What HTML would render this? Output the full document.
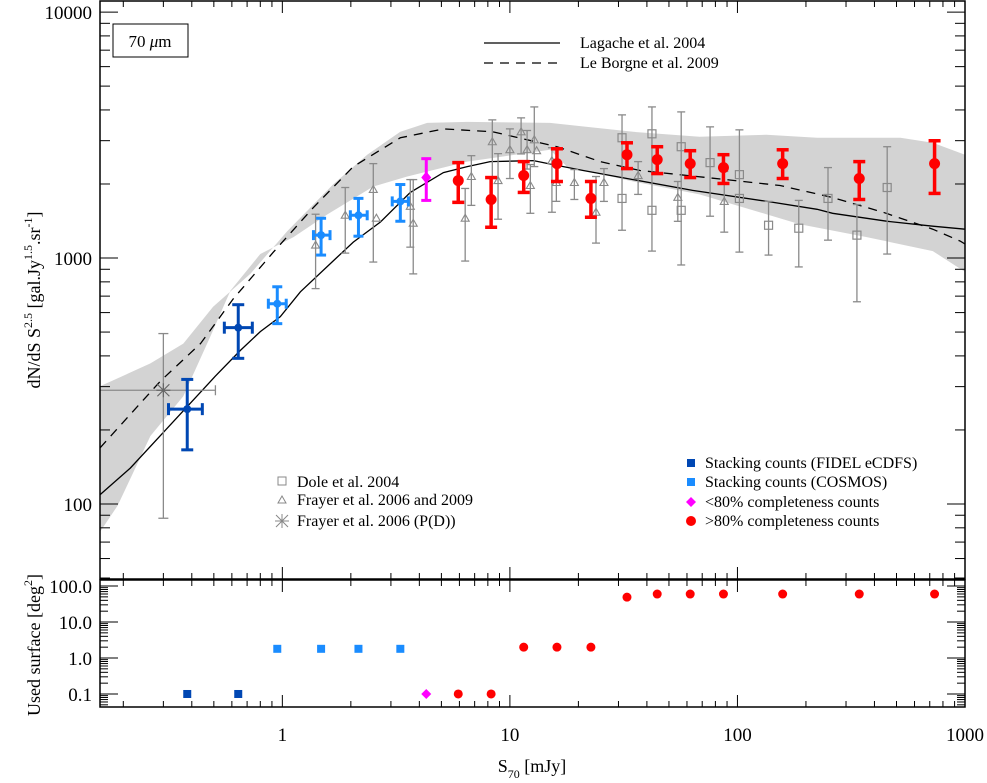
<!DOCTYPE html>
<html><head><meta charset="utf-8"><style>
html,body{margin:0;padding:0;background:#fff;}
svg{display:block;font-family:"Liberation Serif",serif;}
</style></head><body>
<svg id="chart" width="987" height="783" viewBox="0 0 987 783" xmlns="http://www.w3.org/2000/svg">
<g id="band"></g>
<g id="curves"></g>
<g id="marks"></g>
<g id="axes"></g>
<rect x="113" y="24" width="75" height="33" fill="none" stroke="#000" stroke-width="1"/>
<text x="150" y="47" font-size="17" text-anchor="middle">70 <tspan font-style="italic">μ</tspan>m</text>
<g>
<line x1="484" y1="43" x2="560" y2="43" stroke="#000" stroke-width="1.2"/>
<text x="580" y="48" font-size="16">Lagache et al. 2004</text>
<line x1="484" y1="63" x2="560" y2="63" stroke="#000" stroke-width="1.2" stroke-dasharray="9,7"/>
<text x="580" y="68" font-size="16">Le Borgne et al. 2009</text>
</g>
<g font-size="16">
<rect x="278" y="477" width="8" height="8" fill="none" stroke="#888" stroke-width="1"/>
<text x="297" y="487">Dole et al. 2004</text>
<path d="M282,496 L286,503 L278,503 Z" fill="none" stroke="#888" stroke-width="1"/>
<text x="297" y="505">Frayer et al. 2006 and 2009</text>
<path d="M276,515 L288,527 M288,515 L276,527 M282,514 L282,528 M275,521 L289,521" stroke="#888" stroke-width="1"/>
<text x="297" y="526">Frayer et al. 2006 (P(D))</text>
</g>
<g font-size="16">
<rect x="687" y="459" width="8" height="8" fill="#0047b3"/>
<text x="705" y="468">Stacking counts (FIDEL eCDFS)</text>
<rect x="687" y="478" width="8" height="8" fill="#1a8cff"/>
<text x="705" y="487">Stacking counts (COSMOS)</text>
<path d="M691,497 L696,502 L691,507 L686,502 Z" fill="#ff00ff"/>
<text x="705" y="507">&lt;80% completeness counts</text>
<circle cx="691" cy="521" r="5" fill="#ff0000"/>
<text x="705" y="526">&gt;80% completeness counts</text>
</g>
<text transform="translate(40,300) rotate(-90)" font-size="18" text-anchor="middle">dN/dS S<tspan dy="-8" font-size="12">2.5</tspan><tspan dy="8"> [gal.Jy</tspan><tspan dy="-8" font-size="12">1.5</tspan><tspan dy="8">.sr</tspan><tspan dy="-8" font-size="12">-1</tspan><tspan dy="8">]</tspan></text>
<text transform="translate(40,645) rotate(-90)" font-size="18" text-anchor="middle">Used surface [deg<tspan dy="-8" font-size="12">2</tspan><tspan dy="8">]</tspan></text>
<text x="532" y="772" font-size="18" text-anchor="middle">S<tspan dy="6" font-size="12">70</tspan><tspan dy="-6"> [mJy]</tspan></text>
</svg>
<script>
// ---- data ----
const lagacheX=[0.158,0.215,0.313,0.508,0.654,0.80,0.98,1.20,1.67,2.05,2.69,3.65,5.10,6.49,8.19,12.7,15.5,21.0,34.8,63.5,135,224,262,456,722,1000];
const lagacheY=[109,140,204,331,421,502,578,729,972,1161,1397,1848,2225,2354,2466,2489,2399,2269,2084,1883,1699,1578,1520,1410,1347,1310];
const leborgneX=[0.158,0.291,0.437,0.609,0.913,1.37,2.05,3.30,5.10,8.43,16.1,24.9,37.3,73.7,154,262,437,722,955,1000];
const leborgneY=[169,316,449,683,1057,1607,2354,3083,3350,3260,2835,2466,2269,2124,1972,1763,1535,1310,1171,1140];
const bandUpX=[0.158,0.263,0.367,0.496,0.723,1.05,1.67,2.36,3.30,4.33,6.49,15.0,34.8,68.1,134,224,520,722,1000];
const bandUpY=[301,373,449,634,862,1285,1991,2631,3260,3543,3578,3543,3260,3111,3169,3083,3083,2941,2631];
const bandLoX=[0.158,0.189,0.263,0.367,0.483,0.591,0.80,1.12,1.58,2.51,3.54,6.49,15.0,17.8,34.8,68.1,134,188,370,722,1000];
const bandLoY=[77,98.6,189,274,480,736,1038,1216,1507,1954,2145,2466,2757,2354,2047,1814,1507,1372,1216,1067,878];
const redX=[5.93,8.27,11.5,16.1,22.7,32.7,44.4,62.0,86.8,158,343,735];
const redY=[2065,1730,2165,2420,1747,2631,2512,2420,2332,2420,2105,2420];
const redLo=[1684,1334,1848,2047,1465,2310,2205,2124,2010,2105,1730,1831];
const redHi=[2443,2124,2466,2781,2047,2941,2835,2731,2631,2755,2466,2998];
const magX=[4.29], magY=[2124], magLo=[1715], magHi=[2535];
const cosX=[0.95,1.48,2.16,3.30], cosY=[652,1239,1492,1699];
const cosLo=[541,1028,1227,1411], cosHi=[764,1451,1748,1990];
const cosXlo=[0.868,1.37,1.99,3.04], cosXhi=[1.04,1.62,2.36,3.58];
const fidX=[0.382,0.64], fidY=[243,521], fidLo=[166,391], fidHi=[321,646];
const fidXlo=[0.316,0.556], fidXhi=[0.445,0.738];
const pdX=[0.30], pdY=[290], pdLo=[87.5], pdHi=[493], pdXlo=[0.12], pdXhi=[0.508];
const triX=[1.40,1.89,2.51,2.59,3.65,3.76,6.36,6.77,8.37,8.87,10.0,11.2,11.9,12.3,12.8,13.1,15.3,16.0,19.2,23.9,25.9,36.6,54.7,87.5];
const triY=[1129,1493,1900,1452,1622,1385,1452,2145,2970,2065,2757,3260,2757,1972,3025,2731,2489,2028,2028,1535,2028,2165,1765,1699];
const triLo=[751,1047,963,1452,1107,862,972,1637,2105,1438,2105,2650,2300,1520,2354,2731,1535,1700,1730,1150,1699,1814,1410,1274];
const triHi=[1507,1935,2420,1452,2084,2084,1918,2607,3645,2657,3350,3714,3300,2399,4115,2731,2808,2400,2289,2145,2310,2466,2047,2249];
const sqX=[31.1,31.1,42.1,42.1,56.6,56.6,75.8,102,102,137,186,250,335,455];
const sqY=[3083,1747,3199,1563,2835,1563,2443,2183,1747,1359,1322,1747,1239,1935];
const sqLo=[1297,1747,1067,1563,937,1563,1479,1057,1747,1028,920,1182,664,1038];
const sqHi=[3819,1747,4115,1563,3927,1563,3414,3320,1747,1699,1715,2332,1650,2835];
const surfFidX=[0.382,0.64], surfFid=[0.1,0.1];
const surfCosX=[0.95,1.48,2.16,3.30], surfCos=[1.8,1.8,1.8,1.8];
const surfMagX=[4.29], surfMag=[0.1];
const surfRedX=[5.93,8.27,11.5,16.1,22.7,32.7,44.4,62.0,86.8,158,343,735];
const surfRed=[0.1,0.1,2.0,2.0,2.0,49,60,60,60,60,60,60];
const xTicks=[1,10,100,1000];
const yTicks=[100,1000,10000];
const y2Ticks=[0.1,1,10,100];
const y2Labels=["0.1","1.0","10.0","100.0"];

// ---- scales ----
const L=100,R=965,T=1,B=579,T2=580,B2=707;
const xmin=Math.log10(0.158),xmax=3;
const ymin=1.695,ymax=4.045;
const y2min=Math.log10(0.0435),y2max=Math.log10(147);
const sx=v=>L+(Math.log10(v)-xmin)/(xmax-xmin)*(R-L);
const sy=v=>B-(Math.log10(v)-ymin)/(ymax-ymin)*(B-T);
const sy2=v=>B2-(Math.log10(v)-y2min)/(y2max-y2min)*(B2-T2);
const NS="http://www.w3.org/2000/svg";
function mk(tag,attrs,parent){const e=document.createElementNS(NS,tag);for(const k in attrs)e.setAttribute(k,attrs[k]);parent.appendChild(e);return e;}
const gB=document.getElementById('band'),gC=document.getElementById('curves'),gM=document.getElementById('marks'),gA=document.getElementById('axes');
const cx=v=>Math.min(R,Math.max(L,sx(v)));

// band
let d='M'+bandUpX.map((x,i)=>sx(x).toFixed(1)+','+sy(bandUpY[i]).toFixed(1)).join(' L');
for(let i=bandLoX.length-1;i>=0;i--)d+=' L'+sx(bandLoX[i]).toFixed(1)+','+sy(bandLoY[i]).toFixed(1);
d+=' Z';
const bandPath=mk('path',{d:d,fill:'#d3d3d3',stroke:'none'},gB);



function line(xs,ys,dash,name){
  const p=mk('path',{d:'M'+xs.map((x,i)=>sx(x).toFixed(1)+','+sy(ys[i]).toFixed(1)).join(' L'),fill:'none',stroke:'#000','stroke-width':1.3},gC);
  if(dash)p.setAttribute('stroke-dasharray','9,7');
  
  
}
line(lagacheX,lagacheY,false,'lagache-curve');
line(leborgneX,leborgneY,true,'leborgne-curve');

function vbar(g,x,lo,hi,col,w,cap){
  const X=sx(x);
  mk('line',{x1:X,y1:sy(lo),x2:X,y2:sy(hi),stroke:col,'stroke-width':w},g);
  mk('line',{x1:X-cap,y1:sy(lo),x2:X+cap,y2:sy(lo),stroke:col,'stroke-width':w},g);
  mk('line',{x1:X-cap,y1:sy(hi),x2:X+cap,y2:sy(hi),stroke:col,'stroke-width':w},g);
}
function hbar(g,y,lo,hi,col,w,cap){
  const Y=sy(y);
  mk('line',{x1:cx(lo),y1:Y,x2:cx(hi),y2:Y,stroke:col,'stroke-width':w},g);
  if(sx(lo)>=L)mk('line',{x1:sx(lo),y1:Y-cap,x2:sx(lo),y2:Y+cap,stroke:col,'stroke-width':w},g);
  mk('line',{x1:sx(hi),y1:Y-cap,x2:sx(hi),y2:Y+cap,stroke:col,'stroke-width':w},g);
}
const gray='#8a8a8a';
// squares
sqX.forEach((x,i)=>{
  const g=mk('g',{},gM);
  
  
  if(sqHi[i]!==sqLo[i])vbar(g,x,sqLo[i],sqHi[i],gray,1.3,4);
  mk('rect',{x:sx(x)-4,y:sy(sqY[i])-4,width:8,height:8,fill:'none',stroke:gray,'stroke-width':1.2},g);
});
triX.forEach((x,i)=>{
  const g=mk('g',{},gM);
  
  
  if(triHi[i]!==triLo[i])vbar(g,x,triLo[i],triHi[i],gray,1.3,4);
  const X=sx(x),Y=sy(triY[i]);
  mk('path',{d:`M${X},${Y-4} L${X+4},${Y+3} L${X-4},${Y+3} Z`,fill:'none',stroke:gray,'stroke-width':1.1},g);
});
pdX.forEach((x,i)=>{
  const g=mk('g',{},gM);
  
  
  vbar(g,x,pdLo[i],pdHi[i],gray,1.3,5);
  hbar(g,pdY[i],pdXlo[i],pdXhi[i],gray,1.3,5);
  const X=sx(x),Y=sy(pdY[i]);
  mk('path',{d:`M${X-6},${Y-6} L${X+6},${Y+6} M${X+6},${Y-6} L${X-6},${Y+6} M${X},${Y-7} L${X},${Y+7} M${X-7},${Y} L${X+7},${Y}`,stroke:'#666','stroke-width':1.2},g);
});
fidX.forEach((x,i)=>{
  const g=mk('g',{},gM);
  
  
  vbar(g,x,fidLo[i],fidHi[i],'#0047b3',3,6);
  hbar(g,fidY[i],fidXlo[i],fidXhi[i],'#0047b3',3,6);
  mk('circle',{cx:sx(x),cy:sy(fidY[i]),r:4,fill:'#0047b3'},g);
});
cosX.forEach((x,i)=>{
  const g=mk('g',{},gM);
  
  
  vbar(g,x,cosLo[i],cosHi[i],'#1a8cff',3,5);
  hbar(g,cosY[i],cosXlo[i],cosXhi[i],'#1a8cff',3,5);
  mk('circle',{cx:sx(x),cy:sy(cosY[i]),r:4,fill:'#1a8cff'},g);
});
magX.forEach((x,i)=>{
  const g=mk('g',{},gM);
  
  
  vbar(g,x,magLo[i],magHi[i],'#ff00ff',3,5);
  const X=sx(x),Y=sy(magY[i]);
  mk('path',{d:`M${X},${Y-6} L${X+5},${Y} L${X},${Y+6} L${X-5},${Y} Z`,fill:'#ff00ff'},g);
});
redX.forEach((x,i)=>{
  const g=mk('g',{},gM);
  
  
  vbar(g,x,redLo[i],redHi[i],'#ff0000',3.5,6);
  mk('circle',{cx:sx(x),cy:sy(redY[i]),r:5.5,fill:'#ff0000'},g);
});
// bottom panel points
function sq2(xs,vs,col,name){xs.forEach((x,i)=>{const r=mk('rect',{x:sx(x)-4,y:sy2(vs[i])-4,width:8,height:8,fill:col},gM);
  
  });}
sq2(surfFidX,surfFid,'#0047b3','fidel-surface-point');
sq2(surfCosX,surfCos,'#1a8cff','cosmos-surface-point');
surfMagX.forEach((x,i)=>{const X=sx(x),Y=sy2(surfMag[i]);const p=mk('path',{d:`M${X},${Y-5} L${X+5},${Y} L${X},${Y+5} L${X-5},${Y} Z`,fill:'#ff00ff'},gM);
  
  });
surfRedX.forEach((x,i)=>{const c=mk('circle',{cx:sx(x),cy:sy2(surfRed[i]),r:4.5,fill:'#ff0000'},gM);
  
  });

// axes frames
const f1=mk('rect',{x:L,y:T,width:R-L,height:B-T,fill:'none',stroke:'#000','stroke-width':1.5},gA);


const f2=mk('rect',{x:L,y:T2,width:R-L,height:B2-T2,fill:'none',stroke:'#000','stroke-width':1.5},gA);


// x ticks
for(let e=-1;e<3;e++)for(let m=1;m<10;m++){
  const v=m*Math.pow(10,e);if(v<0.158)continue;
  const X=sx(v),len=m===1?12:6;
  [[T,1],[B,-1],[T2,1],[B2,-1]].forEach(([y,s])=>mk('line',{x1:X,y1:y,x2:X,y2:y+s*len,stroke:'#000','stroke-width':1},gA));
}
xTicks.forEach(v=>{const t=mk('text',{x:sx(v),y:741,'font-size':19,'text-anchor':'middle'},gA);t.textContent=String(v);
  
  });
// y ticks main
for(let e=1;e<4;e++)for(let m=1;m<10;m++){
  const v=m*Math.pow(10,e);if(v<50)continue;
  const Y=sy(v),len=m===1?18:10;
  mk('line',{x1:L,y1:Y,x2:L+len,y2:Y,stroke:'#000','stroke-width':1},gA);
  mk('line',{x1:R,y1:Y,x2:R-len,y2:Y,stroke:'#000','stroke-width':1},gA);
}
{const Y=sy(10000);mk('line',{x1:L,y1:Y,x2:L+18,y2:Y,stroke:'#000'},gA);mk('line',{x1:R,y1:Y,x2:R-18,y2:Y,stroke:'#000'},gA);}
yTicks.forEach(v=>{const t=mk('text',{x:92,y:sy(v)+7,'font-size':19,'text-anchor':'end'},gA);t.textContent=String(v);
  
  });
// y ticks bottom
for(let e=-2;e<3;e++)for(let m=1;m<10;m++){
  const v=m*Math.pow(10,e);if(v<0.0435||v>147)continue;
  const Y=sy2(v),len=m===1?18:8;
  mk('line',{x1:L,y1:Y,x2:L+len,y2:Y,stroke:'#000','stroke-width':1},gA);
  mk('line',{x1:R,y1:Y,x2:R-len,y2:Y,stroke:'#000','stroke-width':1},gA);
}
y2Ticks.forEach((v,i)=>{const t=mk('text',{x:92,y:sy2(v)+7,'font-size':19,'text-anchor':'end'},gA);t.textContent=y2Labels[i];
  
  });
</script>
</body></html>
